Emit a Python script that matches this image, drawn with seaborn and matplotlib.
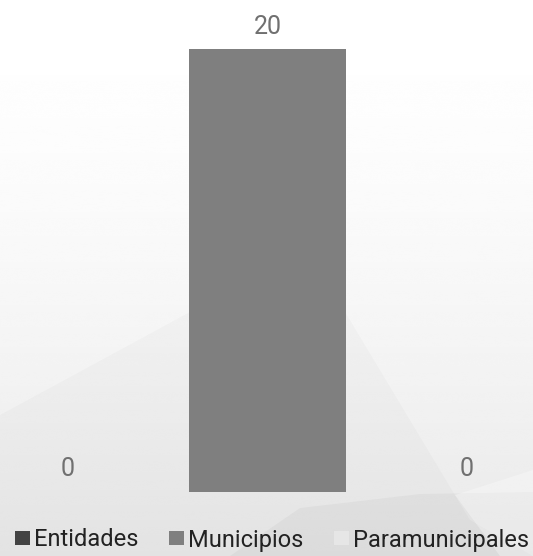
import matplotlib
matplotlib.use("Agg")
import matplotlib.pyplot as plt
import numpy as np
import seaborn as sns
from matplotlib.patches import Patch, Polygon

# data
categories = ["Entidades", "Municipios", "Paramunicipales"]
values = [0, 20, 0]
colors = ["#434343", "#7f7f7f", "#e6e6e6"]

W, H = 533, 556

sns.set_theme(style="white")
plt.rcParams["font.family"] = ["Roboto", "DejaVu Sans"]

fig = plt.figure(figsize=(W / 100, H / 100), dpi=100)

# faint decorative background (pixel coordinates)
bg = fig.add_axes([0, 0, 1, 1])
bg.set_xlim(0, W)
bg.set_ylim(H, 0)
bg.axis("off")
grad = np.linspace(0, 1, 256) ** 1.6
grad = 1.0 - 0.09 * grad
bg.imshow(np.tile(grad[:, None], (1, 2)), cmap="gray", vmin=0, vmax=1,
          extent=[0, W, H, 0], aspect="auto", interpolation="bicubic")
bg.add_patch(Polygon([(0, 415), (190, 312), (345, 312), (470, 520), (533, 556), (0, 556)],
                     closed=True, color="black", alpha=0.02, lw=0))
bg.add_patch(Polygon([(230, 556), (300, 508), (420, 494), (533, 492), (533, 556)],
                     closed=True, color="black", alpha=0.03, lw=0))
bg.add_patch(Polygon([(455, 495), (533, 470), (533, 556), (500, 556)],
                     closed=True, color="white", alpha=0.3, lw=0))

# bars
ax = fig.add_axes([0, 0, 1, 1])
ax.patch.set_alpha(0)
sns.barplot(x=categories, y=values, hue=categories, palette=colors,
            width=0.79, legend=False, saturation=1, linewidth=0,
            edgecolor="none", ax=ax)

px_x = 199.5
ax.set_xlim(-68 / px_x, 2 + (W - 467) / px_x)
px_y = 442.7 / 20
ax.set_ylim(-(H - 491.7) / px_y, 20 + 49 / px_y)
ax.axis("off")

for cont in ax.containers:
    ax.bar_label(cont, fmt="%d", padding=7.5, fontsize=18, color="#707070")

handles = [Patch(facecolor=c, edgecolor="none", label=l) for c, l in zip(colors, categories)]
fig.legend(handles=handles, loc="center", bbox_to_anchor=(0.51, 16 / H), ncol=3,
           frameon=False, fontsize=17, handlelength=0.65, handleheight=0.55,
           handletextpad=0.15, columnspacing=1.3, borderpad=0,
           labelcolor="#222222")

fig.savefig("out.png", dpi=100)
